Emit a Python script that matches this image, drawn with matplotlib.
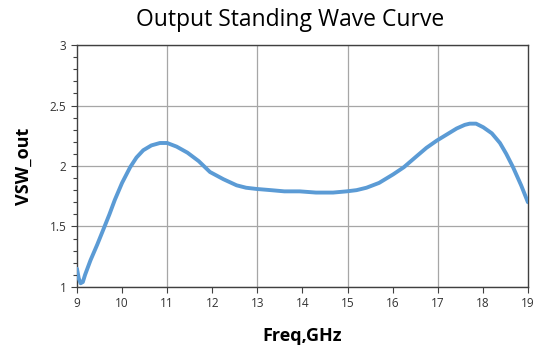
import matplotlib
matplotlib.use("Agg")
import matplotlib.pyplot as plt
from matplotlib.ticker import MultipleLocator

freq = [9.0, 9.04, 9.08, 9.13, 9.18, 9.3, 9.45, 9.58, 9.72, 9.84, 10.0, 10.18, 10.32,
        10.47, 10.65, 10.84, 11.0, 11.21, 11.45, 11.7, 11.95, 12.25, 12.54, 12.75, 12.98,
        13.3, 13.6, 13.94, 14.3, 14.68, 14.98, 15.2, 15.42, 15.7, 16.01, 16.25, 16.53,
        16.75, 16.98, 17.2, 17.42, 17.6, 17.71, 17.85, 18.01, 18.2, 18.38, 18.52, 18.67,
        18.85, 19.0]
vsw = [1.15, 1.07, 1.03, 1.04, 1.10, 1.22, 1.35, 1.47, 1.60, 1.72, 1.86, 1.99, 2.07,
       2.13, 2.17, 2.19, 2.19, 2.16, 2.11, 2.04, 1.95, 1.89, 1.84, 1.82, 1.81,
       1.80, 1.79, 1.79, 1.78, 1.78, 1.79, 1.80, 1.82, 1.86, 1.93, 1.99, 2.08,
       2.15, 2.21, 2.26, 2.31, 2.34, 2.35, 2.35, 2.32, 2.27, 2.19, 2.10, 1.99,
       1.84, 1.70]

title = "Output Standing Wave Curve"
xlabel = "Freq,GHz"
ylabel = "VSW_out"

plt.rcParams['font.family'] = ['Open Sans', 'DejaVu Sans']

fig = plt.figure(figsize=(5.42, 3.52), dpi=100)
ax = fig.add_axes([0.142, 0.185, 0.832, 0.687])

ax.plot(freq, vsw, color='#5B9BD5', linewidth=2.8, solid_capstyle='round', zorder=3)

ax.set_xlim(9, 19)
ax.set_ylim(1, 3)
ax.xaxis.set_major_locator(MultipleLocator(1))
ax.yaxis.set_major_locator(MultipleLocator(0.5))
ax.yaxis.set_minor_locator(MultipleLocator(0.1))

for xv in [11, 13, 15, 17]:
    ax.axvline(xv, color='#a6a6a6', linewidth=0.9, zorder=1)
ax.grid(axis='y', which='major', color='#a6a6a6', linewidth=0.9, zorder=1)

for s in ax.spines.values():
    s.set_color('#404040')
    s.set_linewidth(1.0)

ax.tick_params(axis='both', which='major', direction='out', length=4, width=0.8,
               color='#404040', labelsize=8.5, labelcolor='#333333')
ax.tick_params(axis='y', which='minor', direction='out', length=3, width=0.8, color='#404040')
ax.set_yticks([1, 1.5, 2, 2.5, 3])
ax.set_yticklabels(['1', '1.5', '2', '2.5', '3'])
ax.set_xticks(range(9, 20))
ax.set_xticklabels([str(v) for v in range(9, 20)])

ax.set_xlabel(xlabel, fontsize=13, fontweight='bold', labelpad=12)
ax.set_ylabel(ylabel, fontsize=13, fontweight='bold', labelpad=12)
fig.text(0.535, 0.943, title, ha='center', va='center', fontsize=16.5)

fig.savefig('out.png', dpi=100)
